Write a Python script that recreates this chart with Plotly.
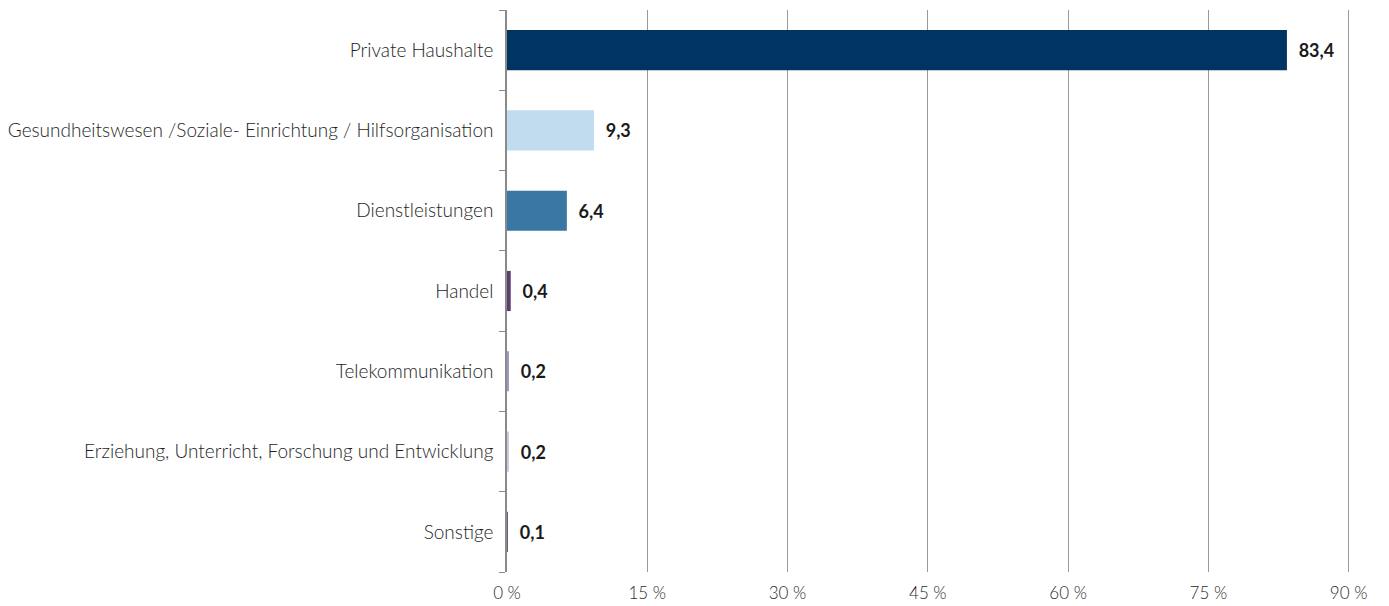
import plotly.graph_objects as go

categories = ["Private Haushalte",
              "Gesundheitswesen /Soziale- Einrichtung / Hilfsorganisation",
              "Dienstleistungen", "Handel", "Telekommunikation",
              "Erziehung, Unterricht, Forschung und Entwicklung", "Sonstige"]
values = [83.4, 9.3, 6.4, 0.4, 0.2, 0.2, 0.1]
colors = ["#003563", "#c0dcee", "#3a77a5", "#5b3e6e", "#a596c8", "#cfc8e0", "#6d5d80"]
tick_vals = [0, 15, 30, 45, 60, 75, 90]
tick_text = ["0 %", "15 %", "30 %", "45 %", "60 %", "75 %", "90 %"]

labels = ["  " + f"{v:.1f}".replace(".", ",") for v in values]

fig = go.Figure(go.Bar(
    x=values, y=categories, orientation="h",
    marker=dict(color=colors, line=dict(width=0)),
    width=0.5,
    text=labels, textposition="outside", cliponaxis=False,
    textfont=dict(family="Lato", size=18, color="#1a1a1a", weight="bold"),
))

fig.update_layout(
    width=1389, height=606,
    margin=dict(l=499, r=39, t=2, b=42, autoexpand=False),
    plot_bgcolor="white", paper_bgcolor="white",
    showlegend=False,
    font=dict(family="Lato", size=16, color="#333333"),
    xaxis=dict(range=[0, 91], tickvals=tick_vals, ticktext=tick_text,
               showgrid=True, gridcolor="#9a9a9a", gridwidth=1,
               zeroline=False, showline=False, ticks="", automargin=False,
               ticklabelstandoff=9,
               tickfont=dict(size=17, color="#2a2a2a", weight=300)),
    yaxis=dict(categoryorder="array", categoryarray=categories[::-1],
               showline=True, linecolor="#8a8a8a", linewidth=1.5,
               ticks="outside", ticklen=6, tickcolor="#8a8a8a",
               tickson="boundaries", showgrid=False, automargin=False,
               ticklabelstandoff=8,
               tickfont=dict(size=19, color="#1e1e1e", weight=300)),
)

fig.write_html("out.html")
